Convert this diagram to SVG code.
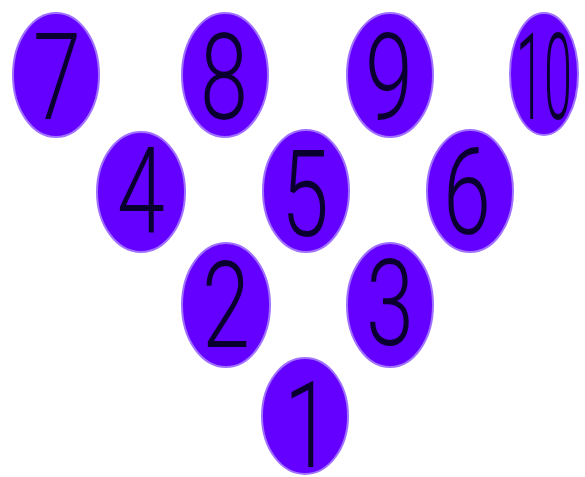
<svg xmlns="http://www.w3.org/2000/svg" width="585" height="477" viewBox="0 0 585 477">
<style>
.pin{fill:#6400ff;stroke:#a070ff;stroke-width:2}
.num{font-family:Roboto,"DejaVu Sans","Liberation Sans",sans-serif;font-weight:300;font-size:120px;fill:#0a0030;text-anchor:middle}
</style>
<rect width="585" height="477" fill="#ffffff"/>
<g id="pin7"><ellipse class="pin" cx="56" cy="75" rx="43" ry="62"/><text class="num" transform="translate(57,119) scale(0.72,1)">7</text></g>
<g id="pin8"><ellipse class="pin" cx="225" cy="75" rx="43" ry="62"/><text class="num" transform="translate(224,119) scale(0.72,1)">8</text></g>
<g id="pin9"><ellipse class="pin" cx="390" cy="75" rx="43" ry="62"/><text class="num" transform="translate(389,119) scale(0.72,1)">9</text></g>
<g id="pin10"><ellipse class="pin" cx="544" cy="74" rx="34" ry="61"/><text class="num" transform="translate(544,119) scale(0.42,1)">10</text></g>
<g id="pin4"><ellipse class="pin" cx="141" cy="192" rx="44" ry="60"/><text class="num" transform="translate(141,233) scale(0.72,1)">4</text></g>
<g id="pin5"><ellipse class="pin" cx="306" cy="191" rx="43" ry="61"/><text class="num" transform="translate(305,236) scale(0.72,1)">5</text></g>
<g id="pin6"><ellipse class="pin" cx="470" cy="191" rx="43" ry="61"/><text class="num" transform="translate(467,234) scale(0.72,1)">6</text></g>
<g id="pin2"><ellipse class="pin" cx="226" cy="305" rx="44" ry="62"/><text class="num" transform="translate(226,347) scale(0.72,1)">2</text></g>
<g id="pin3"><ellipse class="pin" cx="390" cy="305" rx="43" ry="62"/><text class="num" transform="translate(390,345) scale(0.72,1)">3</text></g>
<g id="pin1"><ellipse class="pin" cx="305" cy="416" rx="43" ry="58"/><text class="num" transform="translate(308,467) scale(0.72,1)">1</text></g>
<g id="connectors"></g>
</svg>
